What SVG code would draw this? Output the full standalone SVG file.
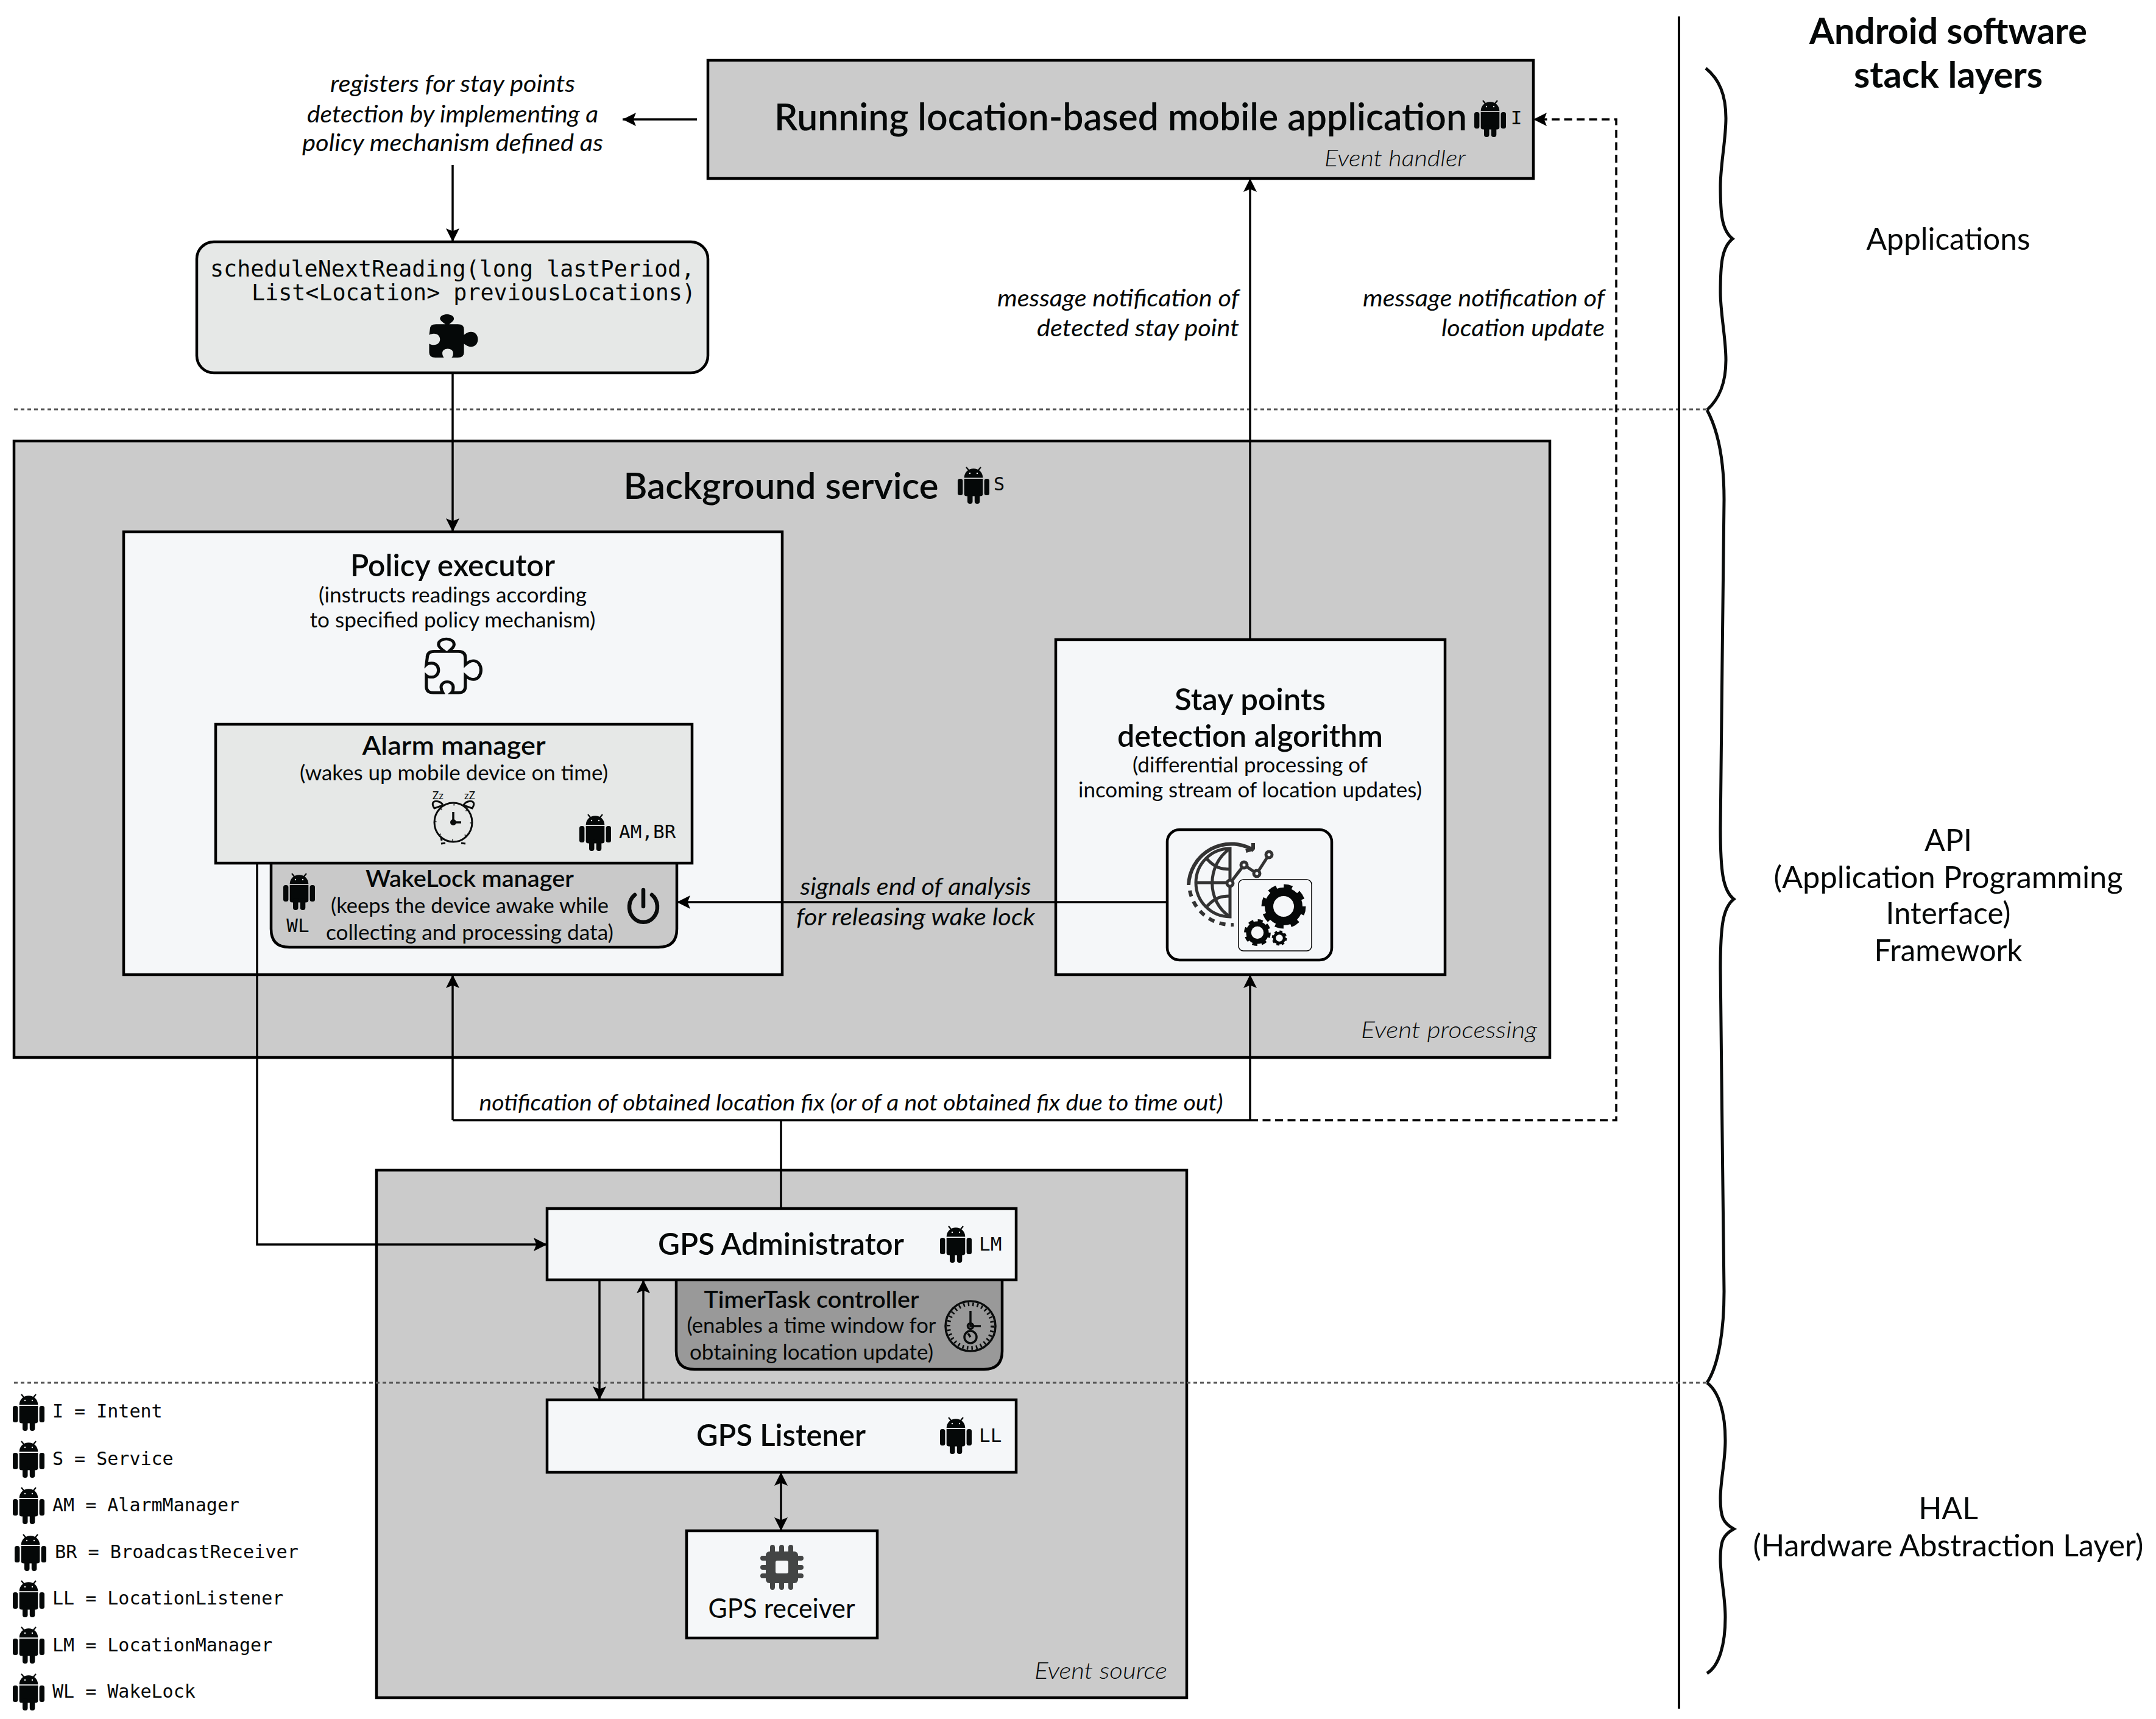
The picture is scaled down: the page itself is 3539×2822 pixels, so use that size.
<svg xmlns="http://www.w3.org/2000/svg" xmlns:xlink="http://www.w3.org/1999/xlink" width="3539" height="2822" viewBox="0 0 3539 2822">
<style>
text{fill:#050808;font-family:"Lato","Noto Sans",sans-serif}
.c{text-anchor:middle}
.e{text-anchor:end}
.l{font-weight:400}
.b{font-weight:600}
.h{font-weight:700}
.i{font-style:italic;font-weight:400}
.ev{font-style:italic;font-weight:300}
.m{font-family:"DejaVu Sans Mono","Liberation Mono",monospace}
.box{stroke:#000;stroke-width:4.5}
.grey{fill:#cbcbcb}
.pale{fill:#f5f7f9}
.mid{fill:#e6e8e7}
.ln{fill:none;stroke:#000;stroke-width:3.5}
.arr{marker-end:url(#ah)}
.dash{stroke-dasharray:13 7.5}
.dot{fill:none;stroke:#555;stroke-width:3;stroke-dasharray:6 5}
.brace{fill:none;stroke:#0a0c0c;stroke-width:5}
.icon{fill:none;stroke:#0a0c0c}
.globe{fill:none;stroke:#333;stroke-width:5}
</style>
<defs>
<marker id="ah" markerUnits="userSpaceOnUse" markerWidth="22" markerHeight="22" viewBox="0 0 20 20" refX="20" refY="10" orient="auto-start-reverse"><path d="M0 0L20 10L0 20L4 10Z" fill="#000"/></marker>
<symbol id="android" overflow="visible" viewBox="-30 -32 60 64" width="60" height="64">
<path fill="#050808" d="M-15.3-12.7C-15.3-22-8-27.7 0-27.7C8-27.7 15.3-22 15.3-12.7Z"/>
<path stroke="#050808" stroke-width="2.2" d="M-7-24L-12-30M7-24L12-30"/>
<circle cx="-6" cy="-20" r="1.2" fill="#fff"/><circle cx="6" cy="-20" r="1.2" fill="#fff"/>
<path fill="#050808" d="M-15.3-11H15.3V14Q15.3 17.6 11 17.6H-11Q-15.3 17.6-15.3 14Z"/>
<rect x="-26" y="-11" width="8.4" height="27" rx="3.5" fill="#050808"/>
<rect x="17.6" y="-11" width="8.4" height="27" rx="3.5" fill="#050808"/>
<rect x="-10" y="10" width="8.5" height="20" rx="4" fill="#050808"/>
<rect x="1.8" y="10" width="8.5" height="20" rx="4" fill="#050808"/>
</symbol>
<path id="puzzle" transform="translate(11 1) scale(1.27 1.03)" d="M-38-13q0-8 8-8h12c-5-4-7-7-7-9c0-5 5-7 9-7s9 2 9 7c0 3-2 5-6 9h11q8 0 8 8v9c3-3 6-5 9-5c6 0 9 6 9 12s-3 12-9 12c-3 0-6-2-9-5v14q0 8-8 8h-8c2-2 2-5 2-7c0-4-3-7-7-7s-7 3-7 7c0 3 1 5 2 7h-11q-8 0-8-8v-14c1 1 4 2 6 2c5 0 8-4 8-9s-3-9-8-9c-2 0-5 1-6 2Z"/>
<g id="gear"><circle r="24" fill="none" stroke="#050808" stroke-width="14"/><circle r="31" fill="none" stroke="#050808" stroke-width="11" stroke-dasharray="13 11.35"/></g>
</defs>
<rect width="3539" height="2822" fill="#fff"/>

<g id="layers">
<path class="dot" d="M23 672H2800"/>
<path d="M2756 27V2805" fill="none" stroke="#000" stroke-width="4"/>
<path class="brace" d="M2800 112C2822 130 2833 155 2833 194C2833 230 2824 270 2824 306C2824 350 2826 378 2844 392C2826 406 2824 435 2824 480C2824 515 2833 555 2833 591C2833 630 2822 655 2802 673"/>
<path class="brace" d="M2802 673C2822 710 2830 760 2830 820C2830 950 2824 1220 2824 1360C2824 1430 2828 1462 2846 1476C2828 1490 2824 1520 2824 1590C2824 1730 2830 1990 2830 2120C2830 2180 2822 2240 2802 2270"/>
<path class="brace" d="M2802 2270C2822 2285 2832 2320 2832 2365C2832 2400 2824 2430 2824 2460C2824 2490 2828 2500 2846 2510C2828 2520 2824 2530 2824 2560C2824 2590 2832 2620 2832 2655C2832 2700 2822 2735 2802 2747"/>
<text class="c h" x="3198" y="72" font-size="59" textLength="456" lengthAdjust="spacingAndGlyphs">Android software</text>
<text class="c h" x="3198" y="144" font-size="59" textLength="310" lengthAdjust="spacingAndGlyphs">stack layers</text>
<text class="c l" x="3198" y="410" font-size="50" textLength="269" lengthAdjust="spacingAndGlyphs">Applications</text>
<text class="c l" x="3198" y="1397" font-size="50">API</text>
<text class="c l" x="3198" y="1458" font-size="50" textLength="573" lengthAdjust="spacingAndGlyphs">(Application Programming</text>
<text class="c l" x="3198" y="1517" font-size="50" textLength="205" lengthAdjust="spacingAndGlyphs">Interface)</text>
<text class="c l" x="3198" y="1578" font-size="50" textLength="243" lengthAdjust="spacingAndGlyphs">Framework</text>
<text class="c l" x="3198" y="2494" font-size="50">HAL</text>
<text class="c l" x="3198" y="2555" font-size="50" textLength="641" lengthAdjust="spacingAndGlyphs">(Hardware Abstraction Layer)</text>
</g>

<g id="application">
<rect class="box grey" x="1162" y="99" width="1355" height="194"/>
<text class="b" x="1271" y="214" font-size="62" textLength="1137" lengthAdjust="spacingAndGlyphs">Running location-based mobile application</text>
<use xlink:href="#android" href="#android" x="2416" y="163"/>
<text class="m c" x="2489" y="204" font-size="31">I</text>
<text class="ev e" x="2406" y="273" font-size="38" textLength="232" lengthAdjust="spacingAndGlyphs">Event handler</text>
</g>

<g id="policy-note">
<text class="i c" x="743" y="151" font-size="38" textLength="402" lengthAdjust="spacingAndGlyphs">registers for stay points</text>
<text class="i c" x="743" y="201" font-size="38" textLength="478" lengthAdjust="spacingAndGlyphs">detection by implementing a</text>
<text class="i c" x="743" y="248" font-size="38" textLength="494" lengthAdjust="spacingAndGlyphs">policy mechanism defined as</text>
</g>

<g id="schedule">
<rect class="box mid" x="323" y="397" width="839" height="215" rx="28"/>
<text class="m" x="345" y="454" font-size="36.7">scheduleNextReading(long lastPeriod,</text>
<text class="m" x="413" y="493" font-size="36.7">List&lt;Location&gt; previousLocations)</text>
<use xlink:href="#puzzle" href="#puzzle" transform="translate(743 553)" fill="#050808"/>
</g>

<g id="background-service">
<rect class="box grey" x="23" y="724" width="2521" height="1012"/>
<text class="c b" x="1282" y="819" font-size="60" textLength="517" lengthAdjust="spacingAndGlyphs">Background service</text>
<use xlink:href="#android" href="#android" x="1568" y="765"/>
<text class="m" x="1631" y="805" font-size="30">S</text>
<text class="ev e" x="2523" y="1704" font-size="38" textLength="289" lengthAdjust="spacingAndGlyphs">Event processing</text>
</g>

<g id="policy-executor">
<rect class="box pale" x="203" y="873" width="1081" height="727"/>
<text class="c b" x="743" y="946" font-size="50" textLength="336" lengthAdjust="spacingAndGlyphs">Policy executor</text>
<text class="c l" x="743" y="989" font-size="35" textLength="440" lengthAdjust="spacingAndGlyphs">(instructs readings according</text>
<text class="c l" x="743" y="1030" font-size="35" textLength="469" lengthAdjust="spacingAndGlyphs">to specified policy mechanism)</text>
<g transform="translate(743 1095) scale(1.12 1.24)"><use xlink:href="#puzzle" href="#puzzle" fill="none" stroke="#0a0c0c" stroke-width="3.6"/></g>
</g>

<g id="wakelock-manager">
<path class="box" fill="#c9c9c9" d="M445 1410H1111V1525Q1111 1555 1081 1555H475Q445 1555 445 1525Z"/>
<text class="c b" x="771" y="1456" font-size="38" textLength="342" lengthAdjust="spacingAndGlyphs">WakeLock manager</text>
<text class="c l" x="771" y="1499" font-size="35" textLength="456" lengthAdjust="spacingAndGlyphs">(keeps the device awake while</text>
<text class="c l" x="771" y="1543" font-size="35" textLength="472" lengthAdjust="spacingAndGlyphs">collecting and processing data)</text>
<use xlink:href="#android" href="#android" x="461" y="1432"/>
<text class="m c" x="489" y="1530" font-size="31">WL</text>
<path class="icon" stroke-width="6.5" stroke-linecap="round" d="M1042 1469A23 25 0 1 0 1070 1469M1056 1461V1488"/>
</g>

<g id="alarm-manager">
<rect class="box mid" x="354" y="1189" width="782" height="228"/>
<text class="c b" x="745" y="1239" font-size="42" textLength="301" lengthAdjust="spacingAndGlyphs">Alarm manager</text>
<text class="c l" x="745" y="1281" font-size="35" textLength="506" lengthAdjust="spacingAndGlyphs">(wakes up mobile device on time)</text>
<text class="c l" x="719" y="1312" font-size="17">Zz</text>
<text class="c l" x="771" y="1312" font-size="17">zZ</text>
<g class="icon" stroke-width="3">
<ellipse cx="744" cy="1350" rx="31" ry="32"/>
<circle cx="744" cy="1350" r="29" stroke-width="3" stroke-dasharray="2 20.8" opacity=".7"/>
<path d="M713 1327C706 1316 714 1314 720 1316C726 1318 726 1320 727 1322ZM775 1327C782 1316 774 1314 768 1316C762 1318 762 1320 761 1322ZM724 1375L725 1380 M731 1384L724 1385M757 1384L764 1385"/>
<path stroke-width="3.5" d="M744 1333V1350H757"/>
<circle cx="744" cy="1350" r="3.5" fill="#0a0c0c"/>
</g>
<use xlink:href="#android" href="#android" x="947" y="1335"/>
<text class="m" x="1016" y="1376" font-size="31">AM,BR</text>
</g>

<g id="stay-points">
<rect class="box pale" x="1733" y="1050" width="639" height="550"/>
<text class="c b" x="2052" y="1166" font-size="50" textLength="248" lengthAdjust="spacingAndGlyphs">Stay points</text>
<text class="c b" x="2052" y="1226" font-size="50" textLength="436" lengthAdjust="spacingAndGlyphs">detection algorithm</text>
<text class="c l" x="2052" y="1268" font-size="35" textLength="386" lengthAdjust="spacingAndGlyphs">(differential processing of</text>
<text class="c l" x="2052" y="1309" font-size="35" textLength="564" lengthAdjust="spacingAndGlyphs">incoming stream of location updates)</text>
<rect class="box pale" x="1916" y="1362" width="270" height="214" rx="20"/>
<g class="globe">
<path d="M2019 1393A56 56 0 0 0 2019 1505Z"/>
<path d="M2019 1393C1980 1420 1980 1480 2019 1505M1963 1449H2019M1981 1410C1995 1425 2005 1427 2019 1427M1981 1488C1995 1473 2005 1471 2019 1471"/>
<path stroke-width="6" d="M1951 1453A70 70 0 0 1 2058 1396"/>
<path stroke-width="6" d="M2057 1384V1393Q2057 1394 2045 1397"/>
<path stroke-width="6" stroke-dasharray="10 9" d="M1953 1462A69 69 0 0 0 2025 1518"/>
<path d="M2019 1450L2042 1420L2063 1434L2083 1403"/>
<circle cx="2019" cy="1450" r="5" fill="#f5f7f9"/><circle cx="2042" cy="1420" r="5" fill="#f5f7f9"/><circle cx="2063" cy="1434" r="5" fill="#f5f7f9"/><circle cx="2083" cy="1403" r="5" fill="#f5f7f9"/>
</g>
<rect class="pale" x="2033" y="1444" width="120" height="117" rx="8" stroke="#000" stroke-width="1.5"/>
<use xlink:href="#gear" href="#gear" transform="translate(2107 1488)"/>
<use xlink:href="#gear" href="#gear" transform="translate(2064 1531) scale(.6)"/>
<use xlink:href="#gear" href="#gear" transform="translate(2100 1540) scale(.34)"/>
</g>

<g id="gps-block">
<rect class="box grey" x="618" y="1921" width="1330" height="866"/>
<text class="ev e" x="1916" y="2756" font-size="38" textLength="218" lengthAdjust="spacingAndGlyphs">Event source</text>
</g>

<path id="hal-divider" class="dot" d="M23 2270H2800"/>

<g id="timertask-controller">
<path class="box" fill="#999" d="M1110 2095H1645V2218Q1645 2248 1615 2248H1140Q1110 2248 1110 2218Z"/>
<text class="c b" x="1332" y="2147" font-size="38" textLength="353" lengthAdjust="spacingAndGlyphs">TimerTask controller</text>
<text class="c l" x="1332" y="2188" font-size="35" textLength="409" lengthAdjust="spacingAndGlyphs">(enables a time window for</text>
<text class="c l" x="1332" y="2232" font-size="35" textLength="400" lengthAdjust="spacingAndGlyphs">obtaining location update)</text>
<g class="icon" stroke-width="3.5">
<circle cx="1593" cy="2177" r="41"/>
<circle cx="1593" cy="2177" r="36" stroke-width="6" stroke-dasharray="2.5 5"/>
<path d="M1593 2152V2177H1610"/>
<circle cx="1593" cy="2177" r="4.5"/>
<circle cx="1593" cy="2195" r="10"/>
<path d="M1593 2195L1589 2189"/>
</g>
</g>

<g id="gps-administrator">
<rect class="box pale" x="898" y="1984" width="770" height="117"/>
<text class="c b" x="1282" y="2060" font-size="50" textLength="404" lengthAdjust="spacingAndGlyphs">GPS Administrator</text>
<use xlink:href="#android" href="#android" x="1539" y="2011"/>
<text class="m" x="1607" y="2053" font-size="31">LM</text>
</g>

<g id="gps-listener">
<rect class="box pale" x="898" y="2298" width="770" height="119"/>
<text class="c b" x="1282" y="2374" font-size="50" textLength="278" lengthAdjust="spacingAndGlyphs">GPS Listener</text>
<use xlink:href="#android" href="#android" x="1539" y="2325"/>
<text class="m" x="1607" y="2367" font-size="31">LL</text>
</g>

<g id="gps-receiver">
<rect class="box pale" x="1127" y="2513" width="313" height="176"/>
<g fill="#434545">
<rect x="1257" y="2547" width="53" height="52" rx="6"/>
<path d="M1268 2540V2606M1283 2540V2606M1298 2540V2606M1252 2558H1315M1252 2573H1315M1252 2587H1315" stroke="#434545" stroke-width="8" stroke-linecap="round"/>
<rect x="1273" y="2562" width="21" height="21" rx="3" fill="#f5f7f9"/>
</g>
<text class="c l" x="1283" y="2656" font-size="44" textLength="241" lengthAdjust="spacingAndGlyphs">GPS receiver</text>
</g>

<g id="connectors">
<path class="ln arr" d="M1144 196H1022"/>
<path class="ln arr" d="M743 271V397"/>
<path class="ln arr" d="M743 612V873"/>
<path class="ln arr" d="M2052 1050V293"/>
<path class="ln arr dash" d="M2052 1839H2653V196H2517"/>
<path class="ln arr" d="M1916 1481H1111"/>
<path class="ln arr" d="M422 1417V2043H898"/>
<path class="ln" d="M743 1839H2052M1282 1839V1984"/>
<path class="ln arr" d="M743 1839V1600"/>
<path class="ln arr" d="M2052 1839V1600"/>
<path class="ln arr" d="M984 2101V2298"/>
<path class="ln arr" d="M1056 2298V2101"/>
<path class="ln arr" style="marker-start:url(#ah)" d="M1282 2417V2513"/>
</g>

<g id="connector-labels">
<text class="i e" x="2034" y="503" font-size="38" textLength="397" lengthAdjust="spacingAndGlyphs">message notification of</text>
<text class="i e" x="2034" y="552" font-size="38" textLength="332" lengthAdjust="spacingAndGlyphs">detected stay point</text>
<text class="i e" x="2634" y="503" font-size="38" textLength="397" lengthAdjust="spacingAndGlyphs">message notification of</text>
<text class="i e" x="2634" y="552" font-size="38" textLength="268" lengthAdjust="spacingAndGlyphs">location update</text>
<text class="i c" x="1503" y="1469" font-size="38" textLength="379" lengthAdjust="spacingAndGlyphs">signals end of analysis</text>
<text class="i c" x="1503" y="1519" font-size="38" textLength="392" lengthAdjust="spacingAndGlyphs">for releasing wake lock</text>
<text class="i c" x="1397" y="1823" font-size="36" textLength="1221" lengthAdjust="spacingAndGlyphs">notification of obtained location fix (or of a not obtained fix due to time out)</text>
</g>

<g id="legend">
<use xlink:href="#android" href="#android" x="17" y="2287"/><text class="m" x="86" y="2327" font-size="30">I = Intent</text>
<use xlink:href="#android" href="#android" x="17" y="2364"/><text class="m" x="86" y="2405" font-size="30">S = Service</text>
<use xlink:href="#android" href="#android" x="17" y="2440"/><text class="m" x="86" y="2481" font-size="30">AM = AlarmManager</text>
<use xlink:href="#android" href="#android" x="20" y="2517"/><text class="m" x="90" y="2558" font-size="30.2">BR = BroadcastReceiver</text>
<use xlink:href="#android" href="#android" x="17" y="2593"/><text class="m" x="86" y="2634" font-size="30">LL = LocationListener</text>
<use xlink:href="#android" href="#android" x="17" y="2669"/><text class="m" x="86" y="2711" font-size="30">LM = LocationManager</text>
<use xlink:href="#android" href="#android" x="17" y="2746"/><text class="m" x="86" y="2787" font-size="30">WL = WakeLock</text>
</g>
</svg>
